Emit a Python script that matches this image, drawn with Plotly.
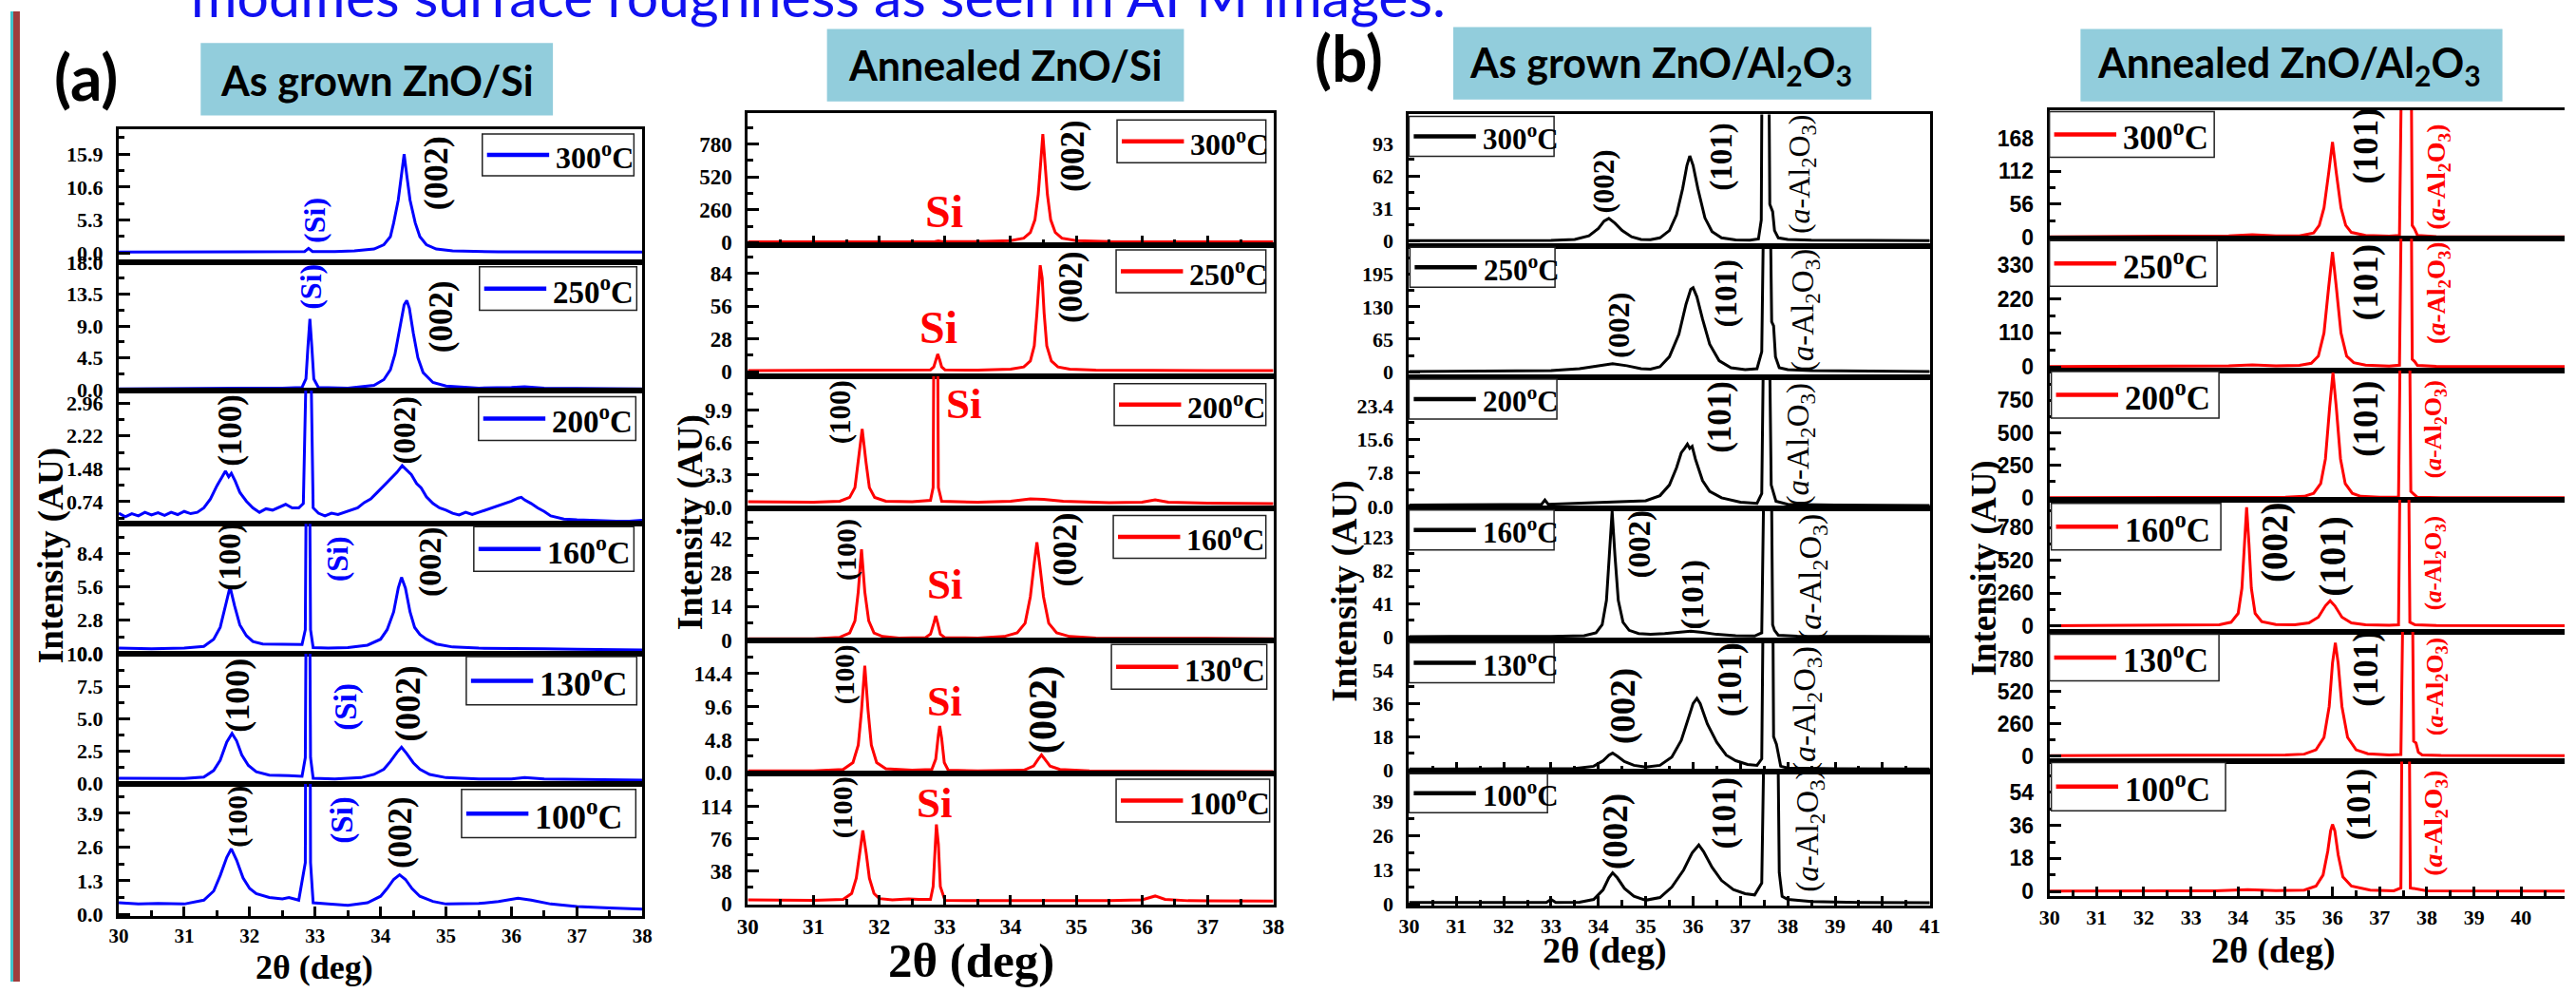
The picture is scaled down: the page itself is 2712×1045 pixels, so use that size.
import plotly.graph_objects as go

W, H = 2712, 1045

# ======================= DATA =======================
TEMPS = ["300", "250", "200", "160", "130", "100"]
X_TICKS_SI = [30, 31, 32, 33, 34, 35, 36, 37, 38]
X_TICKS_AL = [30, 31, 32, 33, 34, 35, 36, 37, 38, 39, 40, 41]

# ---- (a) As grown ZnO/Si : (2theta, intensity) ----
A1_300 = [(30, 0.1), (32.5, 0.15), (32.84, 0.2), (32.9, 0.7), (32.96, 0.2), (33.3, 0.2), (33.6, 0.3), (33.9, 0.6),
          (34.05, 1.3), (34.15, 2.6), (34.2, 4.8), (34.27, 8.5), (34.32, 12.5), (34.36, 15.9), (34.40, 12.5),
          (34.45, 8.5), (34.53, 4.8), (34.6, 2.6), (34.7, 1.3), (34.85, 0.6), (35.1, 0.3), (35.8, 0.15), (38, 0.1)]
A1_250 = [(30, 0.1), (31, 0.15), (32, 0.1), (32.5, 0.2), (32.8, 0.3), (32.86, 1.5), (32.89, 6), (32.92, 10.0),
          (32.95, 6), (32.98, 1.5), (33.05, 0.3), (33.5, 0.2), (33.9, 0.6), (34.05, 1.4), (34.15, 2.8), (34.22, 5),
          (34.3, 9), (34.36, 12), (34.40, 12.6), (34.44, 11.5), (34.5, 8), (34.57, 4.5), (34.65, 2.4), (34.8, 1.0),
          (35.0, 0.5), (35.5, 0.2), (36.0, 0.3), (36.2, 0.4), (36.5, 0.2), (37.2, 0.15), (38, 0.1)]
A1_200 = [(30, 0.48), (30.1, 0.4), (30.2, 0.47), (30.3, 0.42), (30.4, 0.5), (30.5, 0.44), (30.6, 0.49), (30.7, 0.43),
          (30.8, 0.5), (30.9, 0.45), (31.0, 0.52), (31.1, 0.47), (31.2, 0.5), (31.3, 0.6), (31.4, 0.8), (31.5, 1.1),
          (31.58, 1.3), (31.63, 1.43), (31.68, 1.3), (31.72, 1.38), (31.78, 1.2), (31.85, 0.95), (31.95, 0.75),
          (32.05, 0.6), (32.15, 0.5), (32.25, 0.58), (32.35, 0.55), (32.45, 0.62), (32.55, 0.68), (32.65, 0.6),
          (32.75, 0.6), (32.82, 0.7), (32.86, 3.5), (32.9, 4.0), (32.94, 3.5), (32.97, 0.6), (33.05, 0.48),
          (33.15, 0.42), (33.25, 0.48), (33.35, 0.45), (33.45, 0.5), (33.55, 0.55), (33.65, 0.6), (33.75, 0.72),
          (33.85, 0.8), (33.95, 0.95), (34.05, 1.1), (34.15, 1.25), (34.25, 1.4), (34.33, 1.55), (34.4, 1.45),
          (34.47, 1.35), (34.55, 1.15), (34.62, 1.05), (34.7, 0.85), (34.8, 0.7), (34.9, 0.6), (35.0, 0.55),
          (35.1, 0.48), (35.2, 0.44), (35.3, 0.5), (35.4, 0.45), (35.5, 0.5), (35.6, 0.55), (35.7, 0.6),
          (35.8, 0.65), (35.9, 0.7), (36.0, 0.75), (36.1, 0.82), (36.15, 0.84), (36.2, 0.78), (36.3, 0.7),
          (36.4, 0.6), (36.5, 0.52), (36.6, 0.42), (36.7, 0.38), (36.8, 0.35), (37.0, 0.33), (37.2, 0.32),
          (37.4, 0.3), (37.6, 0.3), (37.8, 0.3), (38, 0.32)]
A1_160 = [(30, 0.45), (30.5, 0.4), (31.0, 0.45), (31.3, 0.6), (31.45, 1.2), (31.55, 2.2), (31.63, 4), (31.70, 5.6),
          (31.77, 4), (31.85, 2.4), (31.95, 1.5), (32.05, 1.0), (32.2, 0.8), (32.5, 0.75), (32.8, 0.75), (32.85, 2),
          (32.87, 20), (32.91, 20), (32.93, 2), (32.97, 0.5), (33.2, 0.45), (33.5, 0.5), (33.8, 0.7), (34.0, 1.2),
          (34.1, 2), (34.2, 3.5), (34.27, 5.5), (34.32, 6.4), (34.38, 5.5), (34.45, 3.5), (34.52, 2.2), (34.6, 1.6),
          (34.7, 1.2), (34.85, 0.8), (35.1, 0.55), (35.5, 0.45), (36.0, 0.45), (36.5, 0.4), (37, 0.35), (38, 0.3)]
A1_130 = [(30, 0.4), (30.5, 0.4), (31.0, 0.38), (31.3, 0.5), (31.45, 1.0), (31.55, 1.8), (31.65, 3.2), (31.73, 3.86),
          (31.8, 3.3), (31.88, 2.2), (31.98, 1.4), (32.1, 0.9), (32.3, 0.65), (32.6, 0.6), (32.8, 0.55), (32.85, 2),
          (32.87, 20), (32.91, 20), (32.93, 2), (32.97, 0.4), (33.3, 0.35), (33.7, 0.45), (33.9, 0.7), (34.05, 1.1),
          (34.15, 1.7), (34.25, 2.4), (34.32, 2.8), (34.4, 2.3), (34.5, 1.6), (34.6, 1.1), (34.75, 0.7), (35.0, 0.45),
          (35.5, 0.35), (36.0, 0.35), (36.2, 0.45), (36.5, 0.35), (37.0, 0.3), (38, 0.25)]
A1_100 = [(30, 0.45), (30.3, 0.4), (30.6, 0.42), (31.0, 0.4), (31.3, 0.55), (31.45, 0.9), (31.55, 1.5), (31.65, 2.2),
          (31.72, 2.53), (31.8, 2.1), (31.9, 1.4), (32.0, 1.0), (32.1, 0.8), (32.3, 0.65), (32.5, 0.6), (32.6, 0.65),
          (32.75, 0.55), (32.85, 2), (32.87, 20), (32.91, 20), (32.93, 2), (32.97, 0.45), (33.2, 0.4), (33.5, 0.35),
          (33.8, 0.45), (34.0, 0.7), (34.1, 1.0), (34.2, 1.35), (34.29, 1.53), (34.38, 1.35), (34.48, 1.0),
          (34.6, 0.7), (34.8, 0.5), (35.0, 0.4), (35.5, 0.42), (35.8, 0.5), (36.1, 0.62), (36.3, 0.55), (36.6, 0.4),
          (37.0, 0.3), (37.5, 0.25), (38, 0.2)]
A1_YTICKS = [[0.0, 5.3, 10.6, 15.9], [0.0, 4.5, 9.0, 13.5, 18.0], [0.74, 1.48, 2.22, 2.96],
             [0.0, 2.8, 5.6, 8.4], [0.0, 2.5, 5.0, 7.5, 10.0], [0.0, 1.3, 2.6, 3.9]]
A1_YTEXT = [["0.0", "5.3", "10.6", "15.9"], ["0.0", "4.5", "9.0", "13.5", "18.0"], ["0.74", "1.48", "2.22", "2.96"],
            ["0.0", "2.8", "5.6", "8.4"], ["0.0", "2.5", "5.0", "7.5", "10.0"], ["0.0", "1.3", "2.6", "3.9"]]
A1_YRANGE = [[-1.5, 19.9], [-0.1, 18.05], [0.24, 3.25], [-0.03, 10.9], [-0.03, 10.02], [-0.05, 5.04]]

# ---- (a) Annealed ZnO/Si ----
A2_300 = [(30, 5), (32.5, 6), (32.85, 8), (32.9, 14), (32.95, 8), (33.5, 8), (34.0, 15), (34.2, 35), (34.3, 80),
          (34.37, 180), (34.42, 380), (34.46, 650), (34.49, 860), (34.52, 650), (34.56, 380), (34.61, 180),
          (34.68, 80), (34.78, 35), (35.0, 15), (35.5, 7), (38, 5)]
A2_250 = [(30, 0.8), (32.5, 1.0), (32.78, 1.5), (32.83, 4), (32.86, 10), (32.89, 15), (32.92, 10), (32.95, 4),
          (33.0, 1.5), (33.5, 1.2), (34.0, 2), (34.2, 4), (34.3, 9), (34.36, 22), (34.4, 50), (34.43, 80),
          (34.45, 91), (34.48, 80), (34.51, 50), (34.55, 22), (34.62, 9), (34.72, 4), (34.9, 2), (35.3, 1.2),
          (38, 0.8)]
A2_200 = [(30, 0.55), (31.0, 0.5), (31.4, 0.6), (31.55, 1.0), (31.63, 2), (31.68, 4.5), (31.74, 8.0), (31.8, 4.5),
          (31.85, 2), (31.93, 1.0), (32.1, 0.6), (32.5, 0.55), (32.78, 0.7), (32.82, 2), (32.84, 30), (32.88, 30),
          (32.9, 2), (32.95, 0.6), (33.5, 0.5), (34.0, 0.6), (34.3, 0.85), (34.5, 0.8), (34.8, 0.6), (35.5, 0.45),
          (36.0, 0.5), (36.2, 0.75), (36.4, 0.5), (37, 0.4), (38, 0.35)]
A2_160 = [(30, 0.6), (31.0, 0.6), (31.4, 1.2), (31.55, 3), (31.63, 8), (31.68, 20), (31.73, 37.6), (31.78, 20),
          (31.84, 8), (31.92, 3), (32.05, 1.5), (32.3, 0.9), (32.7, 1.0), (32.78, 2.5), (32.83, 7), (32.86, 10),
          (32.89, 7), (32.93, 2.5), (33.0, 1), (33.5, 0.9), (33.9, 1.5), (34.1, 3), (34.22, 7), (34.3, 18),
          (34.36, 32), (34.40, 40.5), (34.44, 32), (34.5, 18), (34.58, 7), (34.7, 3), (34.9, 1.5), (35.3, 0.9),
          (38, 0.6)]
A2_130 = [(30, 0.3), (31.0, 0.3), (31.45, 0.5), (31.6, 1.5), (31.68, 4), (31.73, 9), (31.78, 15.5), (31.83, 9),
          (31.88, 4), (31.96, 1.5), (32.1, 0.6), (32.5, 0.4), (32.8, 0.5), (32.86, 2), (32.9, 5.5), (32.92, 6.8),
          (32.95, 5), (32.99, 1.5), (33.05, 0.4), (33.5, 0.3), (34.2, 0.4), (34.35, 1.0), (34.42, 2.0), (34.47, 2.6),
          (34.52, 2.0), (34.6, 1.0), (34.75, 0.5), (35.2, 0.3), (38, 0.2)]
A2_100 = [(30, 4.5), (31, 4), (31.45, 5), (31.58, 12), (31.65, 30), (31.7, 60), (31.75, 86), (31.8, 60),
          (31.85, 30), (31.92, 12), (32.0, 6), (32.2, 4.5), (32.45, 5.5), (32.6, 5), (32.78, 5), (32.82, 20),
          (32.85, 70), (32.87, 93), (32.9, 70), (32.93, 20), (33.0, 4), (33.5, 3.5), (34.5, 3.5), (35.5, 3.5),
          (36.0, 4.5), (36.2, 9), (36.35, 5), (36.7, 3.5), (38, 3)]
A2_YTICKS = [[0, 260, 520, 780], [0, 28, 56, 84], [0.0, 3.3, 6.6, 9.9], [0, 14, 28, 42], [0.0, 4.8, 9.6, 14.4],
             [0, 38, 76, 114]]
A2_YTEXT = [["0", "260", "520", "780"], ["0", "28", "56", "84"], ["0.0", "3.3", "6.6", "9.9"], ["0", "14", "28", "42"],
            ["0.0", "4.8", "9.6", "14.4"], ["0", "38", "76", "114"]]
A2_YRANGE = [[-22, 1022], [-4, 108], [-0.1, 13.4], [-0.3, 54.7], [-0.1, 19.1], [-1, 152.7]]

# ---- (b) As grown ZnO/Al2O3 ----
B1_300 = [(30, 0.3), (32, 0.3), (33, 0.5), (33.5, 1.5), (33.8, 5), (34.0, 12), (34.12, 19), (34.22, 21.5),
          (34.35, 17), (34.5, 10), (34.7, 4), (34.9, 1.5), (35.1, 1.2), (35.3, 3), (35.5, 10), (35.65, 25),
          (35.78, 50), (35.87, 72), (35.93, 81), (36.0, 72), (36.1, 50), (36.25, 22), (36.4, 9), (36.6, 3),
          (36.9, 1), (37.2, 0.8), (37.38, 2), (37.44, 20), (37.47, 300), (37.58, 300), (37.62, 35), (37.68, 28),
          (37.72, 10), (37.8, 3), (38.0, 1.5), (38.5, 0.8), (39.5, 0.5), (41, 0.3)]
B1_250 = [(30, 0.5), (32, 1), (33, 2), (33.6, 6), (34.0, 12), (34.3, 16), (34.6, 12), (34.9, 6), (35.1, 5),
          (35.3, 10), (35.5, 30), (35.7, 75), (35.85, 135), (35.95, 165), (36.0, 168), (36.08, 150), (36.2, 105),
          (36.35, 55), (36.55, 22), (36.8, 8), (37.1, 4), (37.35, 6), (37.45, 40), (37.5, 400), (37.62, 400),
          (37.66, 100), (37.7, 92), (37.74, 30), (37.82, 8), (38.0, 4), (38.5, 2), (39.5, 1), (41, 0.5)]
B1_200 = [(30, 0.3), (31, 0.3), (32, 0.4), (32.8, 0.5), (32.87, 1.5), (32.94, 0.5), (33.5, 0.7), (34.0, 1.0),
          (34.5, 1.2), (35.0, 1.3), (35.3, 2.5), (35.5, 5), (35.65, 9), (35.75, 12.5), (35.82, 13.5), (35.88, 14.5),
          (35.93, 13.5), (35.98, 14), (36.05, 11), (36.2, 6), (36.35, 3.5), (36.6, 2), (37.0, 1.0), (37.35, 0.7),
          (37.45, 3), (37.5, 50), (37.6, 50), (37.65, 5), (37.75, 1.2), (38, 0.5), (39, 0.3), (41, 0.2)]
B1_160 = [(30, 0.3), (33, 0.5), (33.7, 1.5), (33.95, 5), (34.08, 15), (34.17, 45), (34.23, 100), (34.29, 155),
          (34.35, 100), (34.42, 45), (34.52, 18), (34.65, 8), (34.85, 4), (35.1, 3), (35.4, 4), (35.7, 6),
          (35.95, 7), (36.2, 5.5), (36.5, 3), (36.9, 1.5), (37.3, 1), (37.45, 5), (37.52, 300), (37.64, 300),
          (37.68, 15), (37.72, 8), (37.8, 2), (38.2, 0.8), (39, 0.5), (41, 0.3)]
B1_130 = [(30, 0.5), (32, 0.5), (33.5, 0.8), (33.9, 2), (34.1, 5), (34.22, 8), (34.3, 9.1), (34.4, 7.5),
          (34.55, 4.5), (34.75, 2.5), (35.0, 1.5), (35.3, 2.5), (35.55, 7), (35.75, 16), (35.9, 28), (36.0, 36),
          (36.08, 38.8), (36.15, 36), (36.3, 25), (36.5, 15), (36.7, 8), (36.9, 5), (37.15, 3), (37.35, 2.5),
          (37.45, 6), (37.52, 200), (37.66, 200), (37.7, 18), (37.76, 14), (37.8, 8), (37.85, 2), (38.0, 1),
          (39, 0.6), (41, 0.5)]
B1_100 = [(30, 0.6), (31, 0.7), (32, 0.6), (32.9, 0.6), (33.0, 1.8), (33.1, 0.6), (33.6, 0.7), (33.9, 1.8),
          (34.1, 5.5), (34.22, 10), (34.3, 11.9), (34.4, 10), (34.55, 6), (34.75, 3), (35.0, 1.5), (35.3, 2.5),
          (35.55, 6.5), (35.8, 13), (35.98, 19.5), (36.12, 22.5), (36.22, 20), (36.4, 14), (36.6, 9), (36.85, 5.5),
          (37.1, 4), (37.3, 3.5), (37.45, 8), (37.53, 100), (37.77, 100), (37.82, 12), (37.88, 3), (38.0, 1.8),
          (38.5, 1), (39.5, 0.6), (41, 0.5)]
B1_YTICKS = [[0, 31, 62, 93], [0, 65, 130, 195], [0.0, 7.8, 15.6, 23.4], [0, 41, 82, 123], [0, 18, 36, 54],
             [0, 13, 26, 39]]
B1_YTEXT = [["0", "31", "62", "93"], ["0", "65", "130", "195"], ["0.0", "7.8", "15.6", "23.4"],
            ["0", "41", "82", "123"], ["0", "18", "36", "54"], ["0", "13", "26", "39"]]
B1_YRANGE = [[-5, 120.5], [-11, 251], [-0.4, 30.1], [-5, 159], [-1, 70], [-0.5, 50.3]]

# ---- (b) Annealed ZnO/Al2O3 ----
B2_300 = [(30, 0.5), (33, 1), (33.8, 2), (34.3, 4), (34.8, 2), (35.3, 2), (35.6, 7), (35.72, 20), (35.82, 50),
          (35.92, 110), (36.0, 162), (36.08, 110), (36.18, 50), (36.28, 20), (36.4, 8), (36.7, 3), (37.2, 1.5),
          (37.42, 3), (37.48, 400), (37.66, 400), (37.69, 20), (37.74, 14), (37.8, 3), (38.2, 1), (41, 0.5)]
B2_250 = [(30, 1), (33, 2), (33.8, 4), (34.3, 7), (34.8, 4), (35.3, 5), (35.55, 12), (35.7, 35), (35.82, 110),
          (35.92, 260), (36.0, 372), (36.08, 260), (36.18, 110), (36.3, 35), (36.45, 14), (36.7, 6), (37.2, 3),
          (37.42, 6), (37.48, 800), (37.66, 800), (37.69, 25), (37.74, 18), (37.8, 5), (38.2, 2), (41, 1)]
B2_200 = [(30, 1), (34, 3), (34.3, 6), (35.0, 6), (35.4, 12), (35.6, 35), (35.75, 110), (35.85, 300), (35.94, 700),
          (36.01, 965), (36.08, 700), (36.17, 300), (36.27, 110), (36.42, 35), (36.6, 12), (37.0, 5), (37.4, 6),
          (37.46, 2000), (37.62, 2000), (37.66, 50), (37.72, 30), (37.8, 5), (38.3, 2), (41, 1)]
B2_160 = [(30, 3), (33, 5), (33.6, 10), (33.85, 30), (34.0, 100), (34.08, 300), (34.13, 650), (34.18, 942),
          (34.23, 650), (34.28, 300), (34.36, 100), (34.5, 35), (34.8, 12), (35.2, 10), (35.5, 25), (35.7, 70),
          (35.85, 160), (35.95, 201), (36.05, 160), (36.2, 70), (36.4, 25), (36.7, 10), (37.2, 6), (37.4, 10),
          (37.45, 2000), (37.6, 2000), (37.64, 30), (37.75, 10), (38.2, 4), (41, 3)]
B2_130 = [(30, 3), (34, 5), (34.3, 8), (35.0, 8), (35.4, 15), (35.65, 50), (35.82, 150), (35.93, 400), (36.0, 750),
          (36.06, 915), (36.12, 750), (36.2, 400), (36.32, 150), (36.5, 50), (36.75, 18), (37.2, 8), (37.45, 12),
          (37.52, 2000), (37.68, 2000), (37.72, 120), (37.77, 105), (37.82, 30), (37.9, 8), (38.3, 4), (41, 3)]
B2_100 = [(30, 0.3), (33.5, 0.4), (34.2, 1.0), (34.8, 0.5), (35.4, 0.8), (35.65, 3), (35.8, 9), (35.9, 22),
          (35.96, 33), (36.0, 36.5), (36.05, 33), (36.12, 20), (36.22, 8), (36.4, 3), (36.8, 0.8), (37.3, 0.4),
          (37.45, 2), (37.5, 200), (37.6, 200), (37.65, 2), (38, 0.4), (41, 0.3)]
B2_YTICKS = [[0, 56, 112, 168], [0, 110, 220, 330], [0, 250, 500, 750], [0, 260, 520, 780], [0, 260, 520, 780],
             [0, 18, 36, 54]]
B2_YTEXT = [[str(v) for v in t] for t in B2_YTICKS]
B2_YRANGE = [[-3, 217], [-12, 414], [-14, 979], [-44, 1001], [-45, 1005], [-2.5, 70.7]]

# ======================= LAYOUT HELPERS =======================
def fx(p):
    return p / W


def fy(p):
    return 1 - p / H


SERIF = "Liberation Serif"
SANS = "Liberation Sans"
CAL = "Lato"
AL_TXT = "(<i>a</i>-Al<sub>2</sub>O<sub>3</sub>)"

COLUMNS = [
    dict(curves=[A1_300, A1_250, A1_200, A1_160, A1_130, A1_100], yt=A1_YTICKS, ytxt=A1_YTEXT, yr=A1_YRANGE,
         color="#0000FF", x0=115, x1=671, xr=[30, 38], xt=X_TICKS_SI,
         bounds=[127, 270, 408, 552, 692, 832, 974], tfont=dict(family=SERIF, size=22, color="black", weight="bold"),
         xfont=21, mirror_y=True, ytitle=(43, 586, 37), xtitle=(323, 1030, 36), xtick_extra=[],
         legends=[(501, 662, 132, 177, 32), (498, 665, 275, 322, 33), (497, 664, 415, 462, 33),
                  (492, 662, 555, 603, 34), (484, 665, 695, 747, 36), (479, 664, 838, 890, 36)]),
    dict(curves=[A2_300, A2_250, A2_200, A2_160, A2_130, A2_100], yt=A2_YTICKS, ytxt=A2_YTEXT, yr=A2_YRANGE,
         color="#FF0000", x0=783, x1=1341, xr=[30, 38], xt=X_TICKS_SI,
         bounds=[110, 252, 393, 535, 678, 821, 962], tfont=dict(family=SERIF, size=23, color="black", weight="bold"),
         xfont=23, mirror_y=True, ytitle=(722, 550, 37), xtitle=(1020, 1022, 51), xtick_extra=[0],
         legends=[(1175, 1333, 117, 163, 32), (1174, 1333, 257, 303, 32), (1172, 1333, 401, 446, 32),
                  (1171, 1333, 543, 589, 32), (1169, 1334, 682, 730, 33), (1174, 1337, 827, 873, 33)]),
    dict(curves=[B1_300, B1_250, B1_200, B1_160, B1_130, B1_100], yt=B1_YTICKS, ytxt=B1_YTEXT, yr=B1_YRANGE,
         color="#000000", x0=1485, x1=2038, xr=[30, 41], xt=X_TICKS_AL,
         bounds=[111, 253, 394, 535, 678, 819, 963], tfont=dict(family=SERIF, size=22, color="black", weight="bold"),
         xfont=22, mirror_y=True, ytitle=(1417, 624, 38), xtitle=(1693, 1012, 38), xtick_extra=[4],
         legends=[(1485, 1639, 113, 156, 31), (1486, 1640, 254, 297, 31), (1485, 1642, 396, 439, 31),
                  (1485, 1639, 537, 580, 31), (1485, 1639, 680, 723, 31), (1485, 1632, 821, 863, 31)]),
    dict(curves=[B2_300, B2_250, B2_200, B2_160, B2_130, B2_100], yt=B2_YTICKS, ytxt=B2_YTEXT, yr=B2_YRANGE,
         color="#FF0000", x0=2165, x1=2712, xr=[30, 40.92], xt=X_TICKS_AL,
         bounds=[106, 245, 387, 526, 668, 808, 953], tfont=dict(family=SANS, size=23, color="black", weight="bold"),
         xfont=22, mirror_y=False, ytitle=(2096, 600, 37), xtitle=(2403, 1012, 38), xtick_extra=[],
         legends=[(2165, 2340, 108, 157, 35), (2165, 2343, 247, 296, 35), (2167, 2345, 388, 438, 35),
                  (2167, 2347, 530, 580, 35), (2165, 2345, 671, 721, 35), (2167, 2352, 809, 861, 35)]),
]

# peak labels: (column, panel, text, x-data, y-pixel, size, color, bold)
BLK, BLU, RED = "black", "#0000FF", "#FF0000"
PEAK_LABELS = [
    (0, 0, "(Si)", 32.99, 225, 32, BLU, True), (0, 0, "(002)", 34.85, 174, 36, BLK, True),
    (0, 1, "(Si)", 32.94, 297, 32, BLU, True), (0, 1, "(002)", 34.93, 329, 35, BLK, True),
    (0, 2, "(100)", 31.70, 451, 35, BLK, True), (0, 2, "(002)", 34.38, 451, 33, BLK, True),
    (0, 3, "(100)", 31.70, 588, 33, BLK, True), (0, 3, "(Si)", 33.35, 590, 32, BLU, True),
    (0, 3, "(002)", 34.77, 593, 34, BLK, True),
    (0, 4, "(100)", 31.81, 737, 36, BLK, True), (0, 4, "(Si)", 33.48, 749, 33, BLU, True),
    (0, 4, "(002)", 34.42, 746, 37, BLK, True),
    (0, 5, "(100)", 31.81, 867, 30, BLK, True), (0, 5, "(Si)", 33.42, 871, 33, BLU, True),
    (0, 5, "(002)", 34.30, 884, 35, BLK, True),
    (1, 0, "Si", 32.99, 215, 48, RED, True), (1, 0, "(002)", 34.95, 156, 35, BLK, True),
    (1, 1, "Si", 32.90, 340, 48, RED, True), (1, 1, "(002)", 34.91, 297, 35, BLK, True),
    (1, 2, "(100)", 31.40, 432, 31, BLK, True), (1, 2, "Si", 33.29, 423, 45, RED, True),
    (1, 3, "(100)", 31.49, 580, 30, BLK, True), (1, 3, "Si", 33.00, 617, 45, RED, True),
    (1, 3, "(002)", 34.82, 580, 36, BLK, True),
    (1, 4, "(100)", 31.48, 714, 29, BLK, True), (1, 4, "Si", 32.99, 744, 44, RED, True),
    (1, 4, "(002)", 34.49, 752, 43, BLK, True),
    (1, 5, "(100)", 31.44, 857, 30, BLK, True), (1, 5, "Si", 32.84, 853, 45, RED, True),
    (2, 0, "(002)", 34.12, 183, 31, BLK, True), (2, 0, "(101)", 36.60, 157, 33, BLK, True),
    (2, 0, AL_TXT, 38.30, 176, 32, BLK, False),
    (2, 1, "(002)", 34.44, 338, 32, BLK, True), (2, 1, "(101)", 36.70, 304, 33, BLK, True),
    (2, 1, AL_TXT, 38.37, 322, 33, BLK, False),
    (2, 2, "(101)", 36.57, 437, 35, BLK, True), (2, 2, AL_TXT, 38.26, 467, 33, BLK, False),
    (2, 3, "(002)", 34.88, 574, 33, BLK, True), (2, 3, "(101)", 35.99, 628, 34, BLK, True),
    (2, 3, AL_TXT, 38.52, 610, 34, BLK, False),
    (2, 4, "(002)", 34.53, 748, 37, BLK, True), (2, 4, "(101)", 36.79, 720, 36, BLK, True),
    (2, 4, AL_TXT, 38.39, 752, 34, BLK, False),
    (2, 5, "(002)", 34.35, 883, 37, BLK, True), (2, 5, "(101)", 36.66, 863, 35, BLK, True),
    (2, 5, AL_TXT, 38.48, 883, 33, BLK, False),
    (3, 0, "(101)", 36.71, 145, 37, BLK, True), (3, 0, AL_TXT, 38.24, 178, 28, RED, True),
    (3, 1, "(101)", 36.71, 292, 37, BLK, True), (3, 1, AL_TXT, 38.24, 303, 27, RED, True),
    (3, 2, "(101)", 36.71, 439, 37, BLK, True), (3, 2, AL_TXT, 38.16, 450, 26, RED, True),
    (3, 3, "(002)", 34.78, 572, 39, BLK, True), (3, 3, "(101)", 35.99, 587, 39, BLK, True),
    (3, 3, AL_TXT, 38.16, 594, 25, RED, True),
    (3, 4, "(101)", 36.71, 708, 37, BLK, True), (3, 4, AL_TXT, 38.20, 727, 26, RED, True),
    (3, 5, "(101)", 36.55, 854, 35, BLK, True), (3, 5, AL_TXT, 38.18, 874, 28, RED, True),
]

# ======================= BUILD =======================
fig = go.Figure()
layout = {}
shapes = []
annotations = []

idx = 0
panel_axes = {}
for ci, col in enumerate(COLUMNS):
    for pi in range(6):
        idx += 1
        xn = "x" if idx == 1 else f"x{idx}"
        yn = "y" if idx == 1 else f"y{idx}"
        xk = "xaxis" if idx == 1 else f"xaxis{idx}"
        yk = "yaxis" if idx == 1 else f"yaxis{idx}"
        panel_axes[(ci, pi)] = xn
        top, bot = col["bounds"][pi], col["bounds"][pi + 1]
        pts = col["curves"][pi]
        fig.add_trace(go.Scatter(x=[p[0] for p in pts], y=[p[1] for p in pts], mode="lines",
                                 line=dict(color=col["color"], width=3), xaxis=xn, yaxis=yn,
                                 showlegend=False, hoverinfo="skip"))
        is_bottom = pi == 5
        show_xt = is_bottom or pi in col["xtick_extra"]
        xt = col["xt"]
        layout[xk] = dict(domain=[fx(col["x0"]), fx(col["x1"])], range=col["xr"], anchor=yn,
                          showline=True, linecolor="black", linewidth=3, mirror=True,
                          showgrid=False, zeroline=False,
                          ticks="inside" if show_xt else "", ticklen=10, tickwidth=3, tickcolor="black",
                          tickvals=xt, ticktext=[str(v) for v in xt], showticklabels=is_bottom,
                          tickfont=dict(family=SERIF, size=col["xfont"], color="black", weight="bold"),
                          minor=dict(ticks="inside" if show_xt else "", ticklen=6, tickwidth=2.5,
                                     tickcolor="black", tickvals=[v + 0.5 for v in xt]))
        yt = col["yt"][pi]
        step = yt[1] - yt[0]
        layout[yk] = dict(domain=[fy(bot), fy(top)], range=col["yr"][pi], anchor=xn,
                          showline=True, linecolor="black", linewidth=3, mirror=col["mirror_y"],
                          showgrid=False, zeroline=False, ticks="inside", ticklen=12, tickwidth=3,
                          tickcolor="black", tickvals=yt, ticktext=col["ytxt"][pi], tickfont=col["tfont"],
                          ticklabelstandoff=9,
                          minor=dict(ticks="inside", ticklen=6, tickwidth=2.5, tickcolor="black",
                                     tickvals=[v - step / 2 for v in yt] + [yt[-1] + step / 2]))
        # legend box
        lx0, lx1, ly0, ly1, lfs = col["legends"][pi]
        shapes.append(dict(type="rect", xref="paper", yref="paper", x0=fx(lx0), x1=fx(lx1), y0=fy(ly1), y1=fy(ly0),
                           fillcolor="white", line=dict(color="#222222", width=1.5), layer="above"))
        ymid = (ly0 + ly1) / 2
        shapes.append(dict(type="line", xref="paper", yref="paper", x0=fx(lx0 + 5), x1=fx(lx0 + 71),
                           y0=fy(ymid), y1=fy(ymid), line=dict(color=col["color"], width=4.5), layer="above"))
        annotations.append(dict(xref="paper", yref="paper", x=fx(lx0 + 76), y=fy(ymid + 1), xanchor="left",
                                yanchor="middle", showarrow=False, text=f"{TEMPS[pi]}<sup>o</sup>C",
                                font=dict(family=SERIF, size=lfs, color="black", weight="bold")))
    # axis titles
    tx, ty, ts = col["ytitle"]
    annotations.append(dict(xref="paper", yref="paper", x=fx(tx), y=fy(ty), textangle=-90, showarrow=False,
                            text="Intensity (AU)", xanchor="center", yanchor="middle",
                            font=dict(family=SERIF, size=ts, color="black", weight="bold")))
    tx, ty, ts = col["xtitle"]
    annotations.append(dict(xref="paper", yref="paper", x=fx(tx), y=fy(ty), showarrow=False,
                            text="2θ (deg)", xanchor="center", yanchor="middle",
                            font=dict(family=SERIF, size=ts, color="black", weight="bold")))

for ci, pi, text, xv, ypx, size, color, bold in PEAK_LABELS:
    annotations.append(dict(xref=panel_axes[(ci, pi)], yref="paper", x=xv, y=fy(ypx), text=text,
                            textangle=0 if text == "Si" else -90, showarrow=False,
                            xanchor="center", yanchor="middle",
                            font=dict(family=SERIF, size=size, color=color, weight="bold" if bold else "normal")))

# title boxes
TITLES = [
    (202, 576, 34, 112, "As grown ZnO/Si", 389, 74),
    (867, 1246, 19, 97, "Annealed ZnO/Si", 1056, 58),
    (1532, 1976, 17, 95, "As grown ZnO/Al<sub>2</sub>O<sub>3</sub>", 1752, 58),
    (2198, 2646, 19, 97, "Annealed ZnO/Al<sub>2</sub>O<sub>3</sub>", 2420, 58),
]
for x0, x1, y0, y1, text, cx, cy in TITLES:
    shapes.append(dict(type="rect", xref="paper", yref="paper", x0=fx(x0), x1=fx(x1), y0=fy(y1), y1=fy(y0),
                       fillcolor="#92CDDC", line=dict(width=0), layer="below"))
    annotations.append(dict(xref="paper", yref="paper", x=fx(cx), y=fy(cy), text=text, showarrow=False,
                            xanchor="center", yanchor="middle",
                            font=dict(family=CAL, size=43, color="black", weight="bold")))

annotations.append(dict(xref="paper", yref="paper", x=fx(80), y=fy(70), text="(a)", showarrow=False,
                        xanchor="center", yanchor="middle", font=dict(family=CAL, size=66, color="black", weight="bold")))
annotations.append(dict(xref="paper", yref="paper", x=fx(1421), y=fy(50), text="(b)", showarrow=False,
                        xanchor="center", yanchor="middle", font=dict(family=CAL, size=66, color="black", weight="bold")))
annotations.append(dict(xref="paper", yref="paper", x=fx(190), y=fy(22), xanchor="left", yanchor="bottom",
                        text="modifies surface roughness as seen in AFM images.", showarrow=False,
                        font=dict(family=CAL, size=59, color="#1010F0")))

# slide border stripes on the left edge
shapes.append(dict(type="rect", xref="paper", yref="paper", x0=0, x1=fx(3), y0=0, y1=1,
                   fillcolor="#3CC4CC", line=dict(width=0)))
shapes.append(dict(type="rect", xref="paper", yref="paper", x0=fx(3), x1=fx(10), y0=0, y1=1,
                   fillcolor="#9E3D3D", line=dict(width=0)))

fig.update_layout(width=W, height=H, margin=dict(l=0, r=0, t=0, b=0), paper_bgcolor="white",
                  plot_bgcolor="white", showlegend=False, shapes=shapes, annotations=annotations, **layout)

fig.write_html("out.html", config={"displayModeBar": False})
